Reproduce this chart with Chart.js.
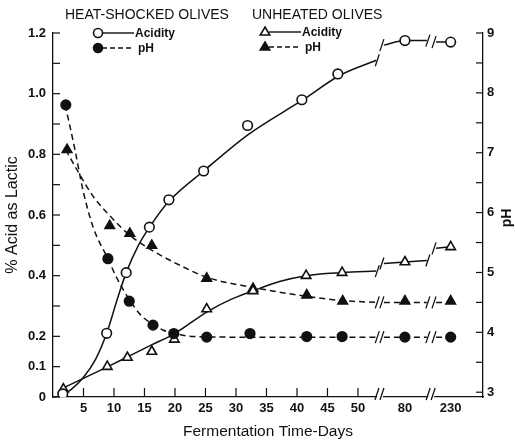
<!DOCTYPE html>
<html>
<head>
<meta charset="utf-8">
<script src="https://cdn.jsdelivr.net/npm/chart.js"></script>
<style>
  body { margin: 0; background: #fff; }
  canvas { display: block; }
</style>
</head>
<body>
<canvas id="grafico" width="515" height="442"></canvas>
<script>
// x axis is broken: 0-50 days linear, then 80, then 230
var xTickDays = [5, 10, 15, 20, 25, 30, 35, 40, 45, 50, 80, 230];
var accTicks = [0, 0.1, 0.2, 0.3, 0.4, 0.5, 0.6, 0.7, 0.8, 0.9, 1.0, 1.1, 1.2];
var accLabels = ['0', '0.1', '0.2', '', '0.4', '', '0.6', '', '0.8', '', '1.0', '', '1.2'];
var phTicks = [3, 3.5, 4, 4.5, 5, 5.5, 6, 6.5, 7, 7.5, 8, 8.5, 9];

// measured points
var hsAcidDays = [1.6, 8.8, 12, 15.8, 19, 24.7, 31.9, 40.8, 46.7, 80, 230];
var hsAcid = [0.01, 0.21, 0.41, 0.56, 0.65, 0.745, 0.895, 0.98, 1.065, 1.175, 1.17];
var hsPhDays = [2.1, 9.0, 12.5, 16.4, 19.8, 25.2, 32.3, 41.6, 47.4, 80, 230];
var hsPh = [7.8, 5.23, 4.52, 4.12, 3.98, 3.92, 3.98, 3.93, 3.93, 3.92, 3.92];
var unAcidDays = [1.7, 8.9, 12.2, 16.2, 19.9, 25.2, 32.8, 41.5, 47.4, 80, 230];
var unAcid = [0.026, 0.10, 0.13, 0.15, 0.19, 0.29, 0.35, 0.40, 0.41, 0.445, 0.495];
var unPhDays = [2.3, 9.3, 12.6, 16.2, 25.2, 32.8, 41.6, 47.5, 80, 230];
var unPh = [7.05, 5.78, 5.65, 5.45, 4.9, 4.73, 4.62, 4.52, 4.52, 4.52];

// fitted curves as drawn (null = axis break)
var hsAcidCurveDays = [1.6, 3, 5, 7, 8.8, 10.5, 12, 14, 16, 19, 25, 32, 41, 47, 53, null, 57, 80, 104, null, 150, 230];
var hsAcidCurve = [0.007, 0.025, 0.065, 0.125, 0.21, 0.32, 0.41, 0.50, 0.565, 0.645, 0.75, 0.865, 0.98, 1.06, 1.11, null, 1.16, 1.175, 1.175, null, 1.17, 1.17];
var hsPhCurveDays = [2, 3.6, 4.9, 6.6, 9, 10.5, 12.5, 14.3, 16.4, 18, 20, 23, 30, 53, null, 57, 104, null, 150, 230];
var hsPhCurve = [7.8, 7.05, 6.38, 5.75, 5.23, 4.9, 4.55, 4.3, 4.13, 4.04, 3.98, 3.93, 3.92, 3.92, null, 3.92, 3.92, null, 3.92, 3.92];
var unAcidCurveDays = [1.7, 9, 12.3, 16, 20, 25.2, 29, 32.8, 37, 41.5, 47.4, 53, null, 57, 80, 104, null, 150, 230];
var unAcidCurve = [0.03, 0.10, 0.133, 0.17, 0.21, 0.28, 0.32, 0.35, 0.38, 0.40, 0.41, 0.415, null, 0.44, 0.445, 0.45, null, 0.49, 0.495];
var unPhCurveDays = [2.1, 3.9, 6.6, 9.3, 12.6, 15.4, 20.8, 25.2, 32.8, 41.6, 47.5, 53, null, 57, 104, null, 150, 230];
var unPhCurve = [7.05, 6.72, 6.27, 5.95, 5.62, 5.42, 5.12, 4.92, 4.75, 4.6, 4.53, 4.5, null, 4.5, 4.5, null, 4.5, 4.5];

var breakPos = [53.6, 62.0];

function axisPos(day) {
    if (day <= 55) return day;
    if (day <= 120) return 57.7 + (day - 80) * 0.15;
    return 65.2 + (day - 230) * 0.03;
}

function pontos(dias, valores) {
    return dias.map(function (d, i) {
        if (d === null) return { x: null, y: null };
        return { x: axisPos(d), y: valores[i] };
    });
}

var preto = '#111';
var fonte = '"Liberation Sans", Arial, sans-serif';

function curva(dias, valores, eixo, tracejado) {
    return {
        data: pontos(dias, valores),
        yAxisID: eixo,
        showLine: true,
        borderColor: preto,
        borderWidth: 1.5,
        borderDash: tracejado ? [6, 4] : [],
        pointRadius: 0,
        cubicInterpolationMode: 'monotone',
        spanGaps: false,
        order: 2,
        curva: true
    };
}

function marcas(dias, valores, eixo, estilo, cheio) {
    return {
        data: pontos(dias, valores),
        yAxisID: eixo,
        showLine: false,
        pointStyle: estilo,
        pointRadius: estilo === 'triangle' ? 5.5 : 4.8,
        pointBorderWidth: 1.6,
        pointBorderColor: preto,
        pointBackgroundColor: cheio ? preto : '#fff',
        order: 1
    };
}

function desenhaMarca(ctx, estilo, cheio, x, y, r) {
    ctx.beginPath();
    if (estilo === 'circle') {
        ctx.arc(x, y, r, 0, Math.PI * 2);
    } else {
        ctx.moveTo(x, y - r);
        ctx.lineTo(x + r * 0.95, y + r * 0.6);
        ctx.lineTo(x - r * 0.95, y + r * 0.6);
        ctx.closePath();
    }
    ctx.fillStyle = cheio ? preto : '#fff';
    ctx.fill();
    ctx.lineWidth = 1.6;
    ctx.strokeStyle = preto;
    ctx.stroke();
}

function barra(ctx, x, y) {
    ctx.beginPath();
    ctx.moveTo(x - 2.5, y + 6);
    ctx.lineTo(x + 1.5, y - 6);
    ctx.stroke();
}

var extras = {
    id: 'extras',
    afterDatasetsDraw: function (chart) {
        var ctx = chart.ctx;
        var area = chart.chartArea;
        var sx = chart.scales.x, sl = chart.scales.yL, sr = chart.scales.yR;
        ctx.save();
        ctx.strokeStyle = preto;
        ctx.lineWidth = 1.2;
        // ticks pointing inwards
        sl.ticks.forEach(function (t) {
            var y = sl.getPixelForValue(t.value);
            ctx.beginPath(); ctx.moveTo(area.left, y); ctx.lineTo(area.left + 7, y); ctx.stroke();
        });
        sr.ticks.forEach(function (t) {
            var y = sr.getPixelForValue(t.value);
            ctx.beginPath(); ctx.moveTo(area.right, y); ctx.lineTo(area.right - 7, y); ctx.stroke();
        });
        sx.ticks.forEach(function (t) {
            if (t.value > 52) return;
            var x = sx.getPixelForValue(t.value);
            ctx.beginPath(); ctx.moveTo(x, area.bottom); ctx.lineTo(x, area.bottom - 9); ctx.stroke();
        });
        // axis breaks
        breakPos.forEach(function (b) {
            var x = sx.getPixelForValue(b);
            ctx.fillStyle = '#fff';
            ctx.fillRect(x - 3, area.bottom - 2, 6, 4);
            ctx.lineWidth = 1.3;
            barra(ctx, x - 2.5, area.bottom - 3);
            barra(ctx, x + 2.5, area.bottom - 3);
        });
        // breaks on the curves
        chart.data.datasets.forEach(function (ds, di) {
            if (!ds.curva) return;
            var pts = chart.getDatasetMeta(di).data;
            ds.data.forEach(function (p, i) {
                if (p.y !== null) return;
                var a = pts[i - 1], b = pts[i + 1];
                ctx.lineWidth = 1.3;
                barra(ctx, a.x + 1.5, a.y);
                barra(ctx, b.x - 1.5, b.y);
            });
        });
        ctx.restore();
    },
    afterDraw: function (chart) {
        var ctx = chart.ctx;
        ctx.save();
        ctx.fillStyle = preto;
        ctx.textBaseline = 'middle';
        ctx.font = '14px ' + fonte;
        ctx.fillText('HEAT-SHOCKED OLIVES', 65, 15);
        ctx.fillText('UNHEATED OLIVES', 252, 15);

        var legenda = [
            { x: 98, y: 33, estilo: 'circle', cheio: false, tracejado: false, texto: 'Acidity' },
            { x: 98, y: 48, estilo: 'circle', cheio: true, tracejado: true, texto: 'pH' },
            { x: 265, y: 32, estilo: 'triangle', cheio: false, tracejado: false, texto: 'Acidity' },
            { x: 265, y: 47, estilo: 'triangle', cheio: true, tracejado: true, texto: 'pH' }
        ];
        legenda.forEach(function (l) {
            ctx.strokeStyle = preto;
            ctx.lineWidth = 1.4;
            ctx.setLineDash(l.tracejado ? [5, 3] : []);
            ctx.beginPath();
            ctx.moveTo(l.x + 4, l.y);
            ctx.lineTo(l.x + 36, l.y);
            ctx.stroke();
            ctx.setLineDash([]);
            desenhaMarca(ctx, l.estilo, l.cheio, l.x, l.y, l.estilo === 'circle' ? 4.5 : 5);
            ctx.fillStyle = preto;
            ctx.font = 'bold 12px ' + fonte;
            ctx.fillText(l.texto, l.x + (l.tracejado ? 40 : 37), l.y + 1);
        });

        // right axis title, reading upwards
        ctx.translate(507, 218);
        ctx.rotate(-Math.PI / 2);
        ctx.textAlign = 'center';
        ctx.font = 'bold 14px ' + fonte;
        ctx.fillText('pH', 0, 0);
        ctx.restore();
    }
};

var ctx = document.getElementById('grafico').getContext('2d');
var myChart = new Chart(ctx, {
    type: 'scatter',
    data: {
        datasets: [
            marcas(hsAcidDays, hsAcid, 'yL', 'circle', false),
            marcas(hsPhDays, hsPh, 'yR', 'circle', true),
            marcas(unAcidDays, unAcid, 'yL', 'triangle', false),
            marcas(unPhDays, unPh, 'yR', 'triangle', true),
            curva(hsAcidCurveDays, hsAcidCurve, 'yL', false),
            curva(hsPhCurveDays, hsPhCurve, 'yR', true),
            curva(unAcidCurveDays, unAcidCurve, 'yL', false),
            curva(unPhCurveDays, unPhCurve, 'yR', true)
        ]
    },
    options: {
        responsive: false,
        animation: false,
        events: [],
        layout: { padding: { top: 33, left: 0, right: 0, bottom: 0 } },
        plugins: { legend: { display: false }, tooltip: { enabled: false } },
        scales: {
            x: {
                type: 'linear',
                min: 0,
                max: 70.5,
                afterBuildTicks: function (scale) {
                    scale.ticks = xTickDays.map(function (d) { return { value: axisPos(d) }; });
                },
                afterFit: function (scale) { scale.height = 45; },
                grid: { display: false, drawTicks: false, tickLength: 0 },
                border: { display: true, color: preto, width: 1.3 },
                ticks: {
                    autoSkip: false,
                    maxRotation: 0,
                    padding: 4,
                    color: preto,
                    font: { family: fonte, size: 13, weight: 'bold' },
                    callback: function (v, i) { return String(xTickDays[i]); }
                },
                title: {
                    display: true,
                    text: 'Fermentation Time-Days',
                    color: preto,
                    padding: { top: 0, bottom: 1 },
                    font: { family: fonte, size: 15.5 }
                }
            },
            yL: {
                type: 'linear',
                position: 'left',
                min: 0,
                max: 1.2,
                afterBuildTicks: function (scale) {
                    scale.ticks = accTicks.map(function (v) { return { value: v }; });
                },
                afterFit: function (scale) { scale.width = 53; },
                grid: { display: false, drawTicks: false, tickLength: 0 },
                border: { display: true, color: preto, width: 1.3 },
                ticks: {
                    autoSkip: false,
                    padding: 7,
                    color: preto,
                    font: { family: fonte, size: 13, weight: 'bold' },
                    callback: function (v, i) { return accLabels[i]; }
                },
                title: {
                    display: true,
                    text: '% Acid as Lactic',
                    color: preto,
                    padding: { top: 3, bottom: 0 },
                    font: { family: fonte, size: 16 }
                }
            },
            yR: {
                type: 'linear',
                position: 'right',
                min: 2.92,
                max: 9,
                afterBuildTicks: function (scale) {
                    scale.ticks = phTicks.map(function (v) { return { value: v }; });
                },
                afterFit: function (scale) { scale.width = 32; },
                grid: { display: false, drawTicks: false, tickLength: 0 },
                border: { display: true, color: preto, width: 1.3 },
                ticks: {
                    autoSkip: false,
                    padding: 4,
                    color: preto,
                    font: { family: fonte, size: 13, weight: 'bold' },
                    callback: function (v) { return Number.isInteger(v) ? String(v) : ''; }
                }
            }
        }
    },
    plugins: [extras]
});
</script>
</body>
</html>
